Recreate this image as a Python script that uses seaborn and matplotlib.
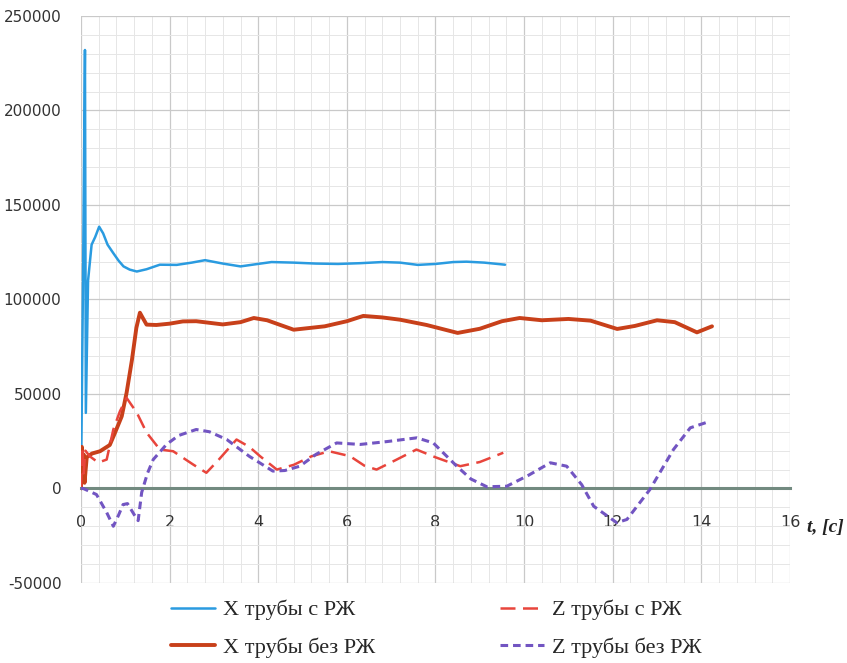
import matplotlib
matplotlib.use("Agg")
import matplotlib.pyplot as plt
import numpy as np
import pandas as pd
import seaborn as sns
from matplotlib.ticker import MultipleLocator

# X трубы с РЖ
t_x_with = [0, 0.05, 0.09, 0.11, 0.16, 0.24, 0.32, 0.41, 0.5, 0.6, 0.73, 0.85, 0.96, 1.1, 1.26,
            1.48, 1.78, 2.16, 2.5, 2.8, 3.2, 3.6, 3.9, 4.3, 4.8, 5.3, 5.8, 6.3, 6.8, 7.2, 7.6,
            8.0, 8.4, 8.7, 9.1, 9.57]
x_with = [0, 120000, 232000, 40000, 110000, 129000, 133000, 138500, 135000, 129000, 124500,
          120500, 117500, 115800, 114800, 116000, 118400, 118300, 119500, 120800, 119000,
          117500, 118500, 119800, 119500, 119000, 118800, 119200, 119800, 119500, 118300,
          118800, 119800, 120000, 119500, 118400]

# X трубы без РЖ
t_x_without = [0, 0.02, 0.04, 0.06, 0.08, 0.13, 0.25, 0.43, 0.65, 0.77, 0.92, 1.03, 1.15, 1.25,
               1.33, 1.4, 1.48, 1.7, 2.0, 2.3, 2.6, 3.2, 3.6, 3.9, 4.2, 4.8, 5.5, 6.0, 6.37,
               6.8, 7.2, 7.8, 8.5, 9.0, 9.5, 9.9, 10.4, 11.0, 11.5, 12.1, 12.5, 13.0, 13.4,
               13.9, 14.24]
x_without = [0, 22000, 5000, 18000, 3000, 16500, 18500, 19700, 23000, 29600, 38200, 50700,
             68000, 85000, 93000, 90000, 86700, 86500, 87200, 88400, 88500, 86800, 88000,
             90200, 89000, 84000, 85800, 88500, 91300, 90500, 89300, 86500, 82300, 84500,
             88500, 90200, 89000, 89700, 88800, 84400, 86000, 89000, 88000, 82600, 85800]

# Z трубы с РЖ
t_z_with = [0, 0.03, 0.06, 0.1, 0.2, 0.39, 0.58, 0.73, 0.88, 1.03, 1.26, 1.48, 1.78, 2.08, 2.53,
            2.83, 3.1, 3.51, 3.8, 4.04, 4.42, 4.8, 5.2, 5.6, 6.07, 6.4, 6.67, 7.1, 7.57, 8.0,
            8.56, 9.0, 9.53]
z_with = [0, 22000, 8000, 20000, 17000, 13700, 15300, 31200, 40900, 47900, 40100, 29600,
          20600, 19700, 12700, 8300, 15000, 25900, 22000, 17100, 10000, 12500, 17000, 19700,
          17100, 12000, 10000, 15000, 20600, 16500, 11800, 14000, 18900]

# Z трубы без РЖ
t_z_without = [0, 0.05, 0.35, 0.58, 0.73, 0.85, 0.95, 1.05, 1.22, 1.29, 1.37, 1.5, 1.63, 1.93,
               2.2, 2.6, 2.9, 3.29, 3.8, 4.33, 4.6, 4.94, 5.3, 5.77, 6.3, 6.9, 7.58, 7.95,
               8.48, 8.8, 9.16, 9.61, 10.1, 10.59, 10.96, 11.3, 11.57, 12.09, 12.32, 12.84,
               13.37, 13.75, 14.2]
z_without = [0, 0, -3200, -12700, -20000, -14000, -8500, -8000, -14600, -17000, -2100, 8000,
             15300, 23300, 28000, 31200, 30000, 25900, 17000, 9200, 9500, 11800, 18000, 24100,
             23300, 24800, 26800, 24100, 11800, 5000, 900, 1200, 7000, 13600, 11800, 2000,
             -9400, -18100, -16400, -500, 20600, 32100, 35600]

labels = ["X трубы с РЖ", "X трубы без РЖ", "Z трубы с РЖ", "Z трубы без РЖ"]
x_ticks = [0, 2, 4, 6, 8, 10, 12, 14, 16]
y_ticks = [-50000, 0, 50000, 100000, 150000, 200000, 250000]

sns.set_style("white")
plt.rcParams["axes.unicode_minus"] = False
fig = plt.figure(figsize=(8.47, 6.63), dpi=100)
ax = fig.add_axes([0.0956, 0.1207, 0.8371, 0.8552])

sns.lineplot(x=t_x_with, y=x_with, ax=ax, color="#2a9be0", lw=1.8,
             sort=False, errorbar=None, label=labels[0])
sns.lineplot(x=t_x_without, y=x_without, ax=ax, color="#c8401a", lw=2.8,
             sort=False, errorbar=None, label=labels[1])
sns.lineplot(x=t_z_with, y=z_with, ax=ax, color="#e8453c", lw=1.8, linestyle=(0, (6, 3)),
             sort=False, errorbar=None, label=labels[2])
sns.lineplot(x=t_z_without, y=z_without, ax=ax, color="#7255c2", lw=2.2, linestyle=(0, (2.5, 1.6)),
             sort=False, errorbar=None, label=labels[3])

ax.set_xlim(0, 16)
ax.set_ylim(-50000, 250000)
ax.set_xticks(x_ticks)
ax.set_yticks(y_ticks)
ax.xaxis.set_minor_locator(MultipleLocator(0.4))
ax.yaxis.set_minor_locator(MultipleLocator(10000))
ax.grid(which="major", color="#c9c9c9", lw=0.9)
ax.grid(which="minor", color="#e6e6e6", lw=0.7)
ax.set_axisbelow(True)

for s in ["top", "right", "left"]:
    ax.spines[s].set_visible(False)
ax.spines["bottom"].set_position(("data", 0))
ax.spines["bottom"].set_color("#728a80")
ax.spines["bottom"].set_linewidth(2.2)
ax.spines["bottom"].set_zorder(1.5)
ax.tick_params(axis="x", which="major", direction="out", length=5, width=1.5,
               color="#728a80", pad=14, labelsize=11.5, labelcolor="#333333")
ax.tick_params(axis="x", which="minor", length=0)
ax.tick_params(axis="y", which="both", length=0, pad=14, labelsize=11, labelcolor="#333333")
ax.set_xlabel("")
ax.set_ylabel("")

fig.text(0.974, 0.205, "t, [c]", fontsize=14, fontweight="bold", fontstyle="italic",
         family="Liberation Serif", ha="center", va="center", color="#222222")

handles, lbls = ax.get_legend_handles_labels()
ax.get_legend().remove()
fig.legend(handles, lbls, ncol=2, loc="lower left", bbox_to_anchor=(0.178, -0.022),
           frameon=False, handlelength=2.0, handletextpad=0.35, columnspacing=5.6,
           labelspacing=0.75, prop={"family": "Liberation Serif", "size": 16})

fig.savefig("out.png", dpi=100)
